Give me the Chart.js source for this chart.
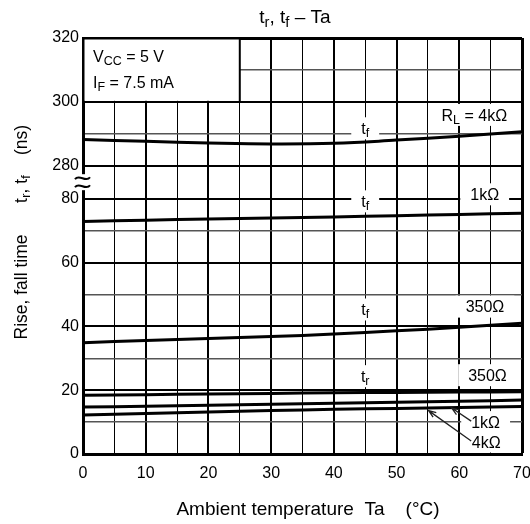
<!DOCTYPE html>
<html>
<head>
<meta charset="utf-8">
<title>tr, tf - Ta</title>
<script src="https://cdn.jsdelivr.net/npm/chart.js@4"></script>
<style>
  html, body { margin: 0; padding: 0; background: #fff; }
  canvas { display: block; }
</style>
</head>
<body>
<canvas id="chart" width="530" height="524"></canvas>
<script>
// Ambient temperature Ta (°C)
const temps = [0, 10, 20, 30, 40, 50, 60, 70];

// fall time tf (ns) for each load resistor
const tf4k = [288.2, 287.6, 287.1, 286.8, 287.0, 288.0, 289.2, 290.6];
const tf1k = [72.9, 73.3, 73.7, 74.0, 74.3, 74.7, 75.1, 75.5];
const tf350 = [34.9, 35.6, 36.2, 36.8, 37.6, 38.6, 39.7, 41.0];

// rise time tr (ns) for each load resistor
const tr350 = [18.4, 18.6, 18.8, 19.0, 19.2, 19.3, 19.4, 19.5];
const tr1k = [14.7, 15.0, 15.3, 15.6, 15.9, 16.2, 16.5, 16.9];
const tr4k = [12.2, 12.7, 13.2, 13.6, 14.0, 14.3, 14.6, 14.9];

// y grid lines (ns) below and above the axis break, and which ones get a label
const lowerTicks = [0, 10, 20, 30, 40, 50, 60, 70, 80];
const upperTicks = [280, 290, 300, 310, 320];
const labelledTicks = [0, 20, 40, 60, 80, 280, 300, 320];

// x grid lines every 5 °C, labels every 10
const xMax = 70;
const xStep = 5;

// axis break: 80 ns jumps to 280 ns, with a small gap (in axis units) in between
const BREAK_LOW = 80;
const BREAK_HIGH = 280;
const GAP = 10.4;

function toAxis(v) {
  return v <= BREAK_LOW ? v : v - BREAK_HIGH + BREAK_LOW + GAP;
}
function fromAxis(a) {
  return a <= BREAK_LOW + 0.01 ? a : a - GAP - BREAK_LOW + BREAK_HIGH;
}

const yTickValues = lowerTicks.concat(upperTicks).map(toAxis);
const yTop = toAxis(upperTicks[upperTicks.length - 1]);

// curve labels, placed in axis units (x = °C, y = position on the broken axis)
const notes = [
  { text: [["t", 0], ["f", 1]], x: 45, y: 102.1 },
  { text: [["R", 0], ["L", 1], [" = 4kΩ", 0]], x: 62.4, y: 106.3 },
  { text: [["t", 0], ["f", 1]], x: 45, y: 79.2 },
  { text: [["1kΩ", 0]], x: 64.05, y: 81.4 },
  { text: [["t", 0], ["f", 1]], x: 45, y: 45.3 },
  { text: [["350Ω", 0]], x: 64.1, y: 46.2 },
  { text: [["t", 0], ["r", 1]], x: 45, y: 24.4 },
  { text: [["350Ω", 0]], x: 64.5, y: 24.7 },
  { text: [["1kΩ", 0]], x: 64.2, y: 10.0 },
  { text: [["4kΩ", 0]], x: 64.3, y: 3.6 },
];

// leader arrows for the tr 1kΩ / 4kΩ curves
const arrows = [
  { from: [61.9, 10.3], to: [58.8, 14.4] },
  { from: [61.9, 4.1], to: [55.1, 13.6] },
];

const FONT = '"Liberation Sans", Arial, sans-serif';

function series(values) {
  return temps.map(function (t, i) {
    return { x: t, y: toAxis(values[i]) };
  });
}

function curve(values) {
  return {
    data: series(values),
    borderColor: "#000",
    borderWidth: 3,
    pointRadius: 0,
    tension: 0.4,
    fill: false,
  };
}

// rich text with subscripts: parts = [[text, isSub], ...]
function richWidth(ctx, parts, size) {
  let w = 0;
  parts.forEach(function (p) {
    ctx.font = (p[1] ? size * 0.78 : size) + "px " + FONT;
    w += ctx.measureText(p[0]).width;
  });
  return w;
}

function drawRich(ctx, parts, x, y, size, align) {
  const w = richWidth(ctx, parts, size);
  let cx = align === "center" ? x - w / 2 : x;
  ctx.textAlign = "left";
  ctx.textBaseline = "alphabetic";
  parts.forEach(function (p) {
    const s = p[1] ? size * 0.78 : size;
    ctx.font = s + "px " + FONT;
    ctx.fillText(p[0], cx, y + (p[1] ? size * 0.2 : 0));
    cx += ctx.measureText(p[0]).width;
  });
  return w;
}

function drawArrow(ctx, x1, y1, x2, y2) {
  ctx.beginPath();
  ctx.moveTo(x1, y1);
  ctx.lineTo(x2, y2);
  const a = Math.atan2(y1 - y2, x1 - x2);
  const len = 8;
  ctx.moveTo(x2 + len * Math.cos(a + 0.35), y2 + len * Math.sin(a + 0.35));
  ctx.lineTo(x2, y2);
  ctx.lineTo(x2 + len * Math.cos(a - 0.35), y2 + len * Math.sin(a - 0.35));
  ctx.stroke();
}

const overlay = {
  id: "overlay",
  afterDatasetsDraw(chart) {
    const ctx = chart.ctx;
    const x = chart.scales.x;
    const y = chart.scales.y;
    ctx.save();

    // curve labels on white patches
    notes.forEach(function (n) {
      const size = 16;
      const px = x.getPixelForValue(n.x);
      const py = y.getPixelForValue(n.y);
      const w = richWidth(ctx, n.text, size);
      const h = n.y < 5 ? 20 : 22;
      ctx.fillStyle = "#fff";
      ctx.fillRect(px - w / 2 - 10, py - h / 2, w + 20, h);
      ctx.fillStyle = "#000";
      drawRich(ctx, n.text, px, py + size * 0.36, size, "center");
    });

    // leader arrows
    ctx.strokeStyle = "#222";
    ctx.lineWidth = 1.3;
    arrows.forEach(function (a) {
      drawArrow(ctx,
        x.getPixelForValue(a.from[0]), y.getPixelForValue(a.from[1]),
        x.getPixelForValue(a.to[0]), y.getPixelForValue(a.to[1]));
    });
    ctx.restore();
  },
  afterDraw(chart) {
    const ctx = chart.ctx;
    const area = chart.chartArea;
    const x = chart.scales.x;
    const y = chart.scales.y;
    ctx.save();

    // condition box in the top-left corner
    const bx = x.getPixelForValue(25);
    const by = y.getPixelForValue(toAxis(300));
    ctx.fillStyle = "#fff";
    ctx.fillRect(area.left + 1.5, area.top + 1.5, bx - area.left - 1.5, by - area.top - 2.5);
    ctx.strokeStyle = "#000";
    ctx.lineWidth = 2;
    ctx.beginPath();
    ctx.moveTo(bx, area.top);
    ctx.lineTo(bx, by);
    ctx.stroke();
    ctx.fillStyle = "#000";
    drawRich(ctx, [["V", 0], ["CC", 1], [" = 5 V", 0]], area.left + 10, area.top + 24, 16, "left");
    drawRich(ctx, [["I", 0], ["F", 1], [" = 7.5 mA", 0]], area.left + 10, area.top + 49.5, 16, "left");

    // axis break mark
    const mid = (y.getPixelForValue(toAxis(BREAK_LOW)) + y.getPixelForValue(toAxis(BREAK_HIGH))) / 2;
    const lx = area.left;
    ctx.fillStyle = "#fff";
    ctx.fillRect(lx - 8, mid - 8, 16, 16);
    ctx.strokeStyle = "#000";
    ctx.lineWidth = 2;
    [-4, 4].forEach(function (off) {
      const cy = mid + off;
      ctx.beginPath();
      ctx.moveTo(lx - 8, cy + 1);
      ctx.bezierCurveTo(lx - 4, cy - 5, lx + 3, cy + 5, lx + 7, cy - 1);
      ctx.stroke();
    });

    // title
    ctx.fillStyle = "#000";
    drawRich(ctx, [["t", 0], ["r", 1], [", t", 0], ["f", 1], [" – Ta", 0]], 295, 23, 19, "center");

    // x axis title
    ctx.font = "19px " + FONT;
    ctx.textAlign = "center";
    ctx.textBaseline = "alphabetic";
    ctx.fillText("Ambient temperature  Ta    (°C)", 308, 515);

    // y axis title (rotated)
    ctx.translate(26.5, 0);
    ctx.rotate(-Math.PI / 2);
    ctx.font = "17.5px " + FONT;
    ctx.textAlign = "center";
    ctx.fillText("Rise, fall time", -287, 0);
    drawRich(ctx, [["t", 0], ["r", 1], [", t", 0], ["f", 1]], -189, 0, 17.5, "center");
    ctx.font = "17.5px " + FONT;
    ctx.textAlign = "center";
    ctx.fillText("(ns)", -140, 0);
    ctx.restore();
  },
};

function isMajorY(v) {
  return labelledTicks.indexOf(Math.round(fromAxis(v))) >= 0;
}

new Chart(document.getElementById("chart").getContext("2d"), {
  type: "line",
  data: {
    datasets: [
      curve(tf4k),
      curve(tf1k),
      curve(tf350),
      curve(tr350),
      curve(tr1k),
      curve(tr4k),
    ],
  },
  options: {
    responsive: false,
    animation: false,
    devicePixelRatio: 1,
    layout: { padding: { top: 38, right: 8, left: 0, bottom: 0 } },
    plugins: {
      legend: { display: false },
      tooltip: { enabled: false },
      title: { display: false },
    },
    scales: {
      x: {
        type: "linear",
        min: 0,
        max: xMax,
        afterFit: function (scale) {
          scale.height = 70;
          scale.paddingLeft = 0;
          scale.paddingRight = 0;
        },
        ticks: {
          stepSize: xStep,
          autoSkip: false,
          maxRotation: 0,
          padding: 10,
          color: "#000",
          font: { family: FONT, size: 16 },
          callback: function (v) {
            return v % 10 === 0 ? String(v) : "";
          },
        },
        grid: {
          drawTicks: false,
          color: "#000",
          lineWidth: function (c) {
            const v = c.tick ? c.tick.value : 0;
            if (v === xMax) return 3;
            return v % 10 === 0 ? 2 : 1;
          },
        },
        border: { display: true, color: "#000", width: 3 },
      },
      y: {
        type: "linear",
        min: 0,
        max: yTop,
        afterBuildTicks: function (scale) {
          scale.ticks = yTickValues.map(function (v) {
            return { value: v };
          });
        },
        afterFit: function (scale) {
          scale.width = 83;
        },
        ticks: {
          autoSkip: false,
          padding: 4,
          color: "#000",
          font: { family: FONT, size: 16 },
          callback: function (v) {
            return isMajorY(v) ? String(Math.round(fromAxis(v))) : "";
          },
        },
        grid: {
          drawTicks: false,
          color: function (c) {
            const v = c.tick ? c.tick.value : 0;
            return isMajorY(v) ? "#000" : "#555";
          },
          lineWidth: function (c) {
            const v = c.tick ? c.tick.value : 0;
            if (Math.abs(v - yTop) < 0.01) return 3;
            return isMajorY(v) ? 2 : 1.5;
          },
        },
        border: { display: true, color: "#000", width: 3 },
      },
    },
  },
  plugins: [overlay],
});
</script>
</body>
</html>
